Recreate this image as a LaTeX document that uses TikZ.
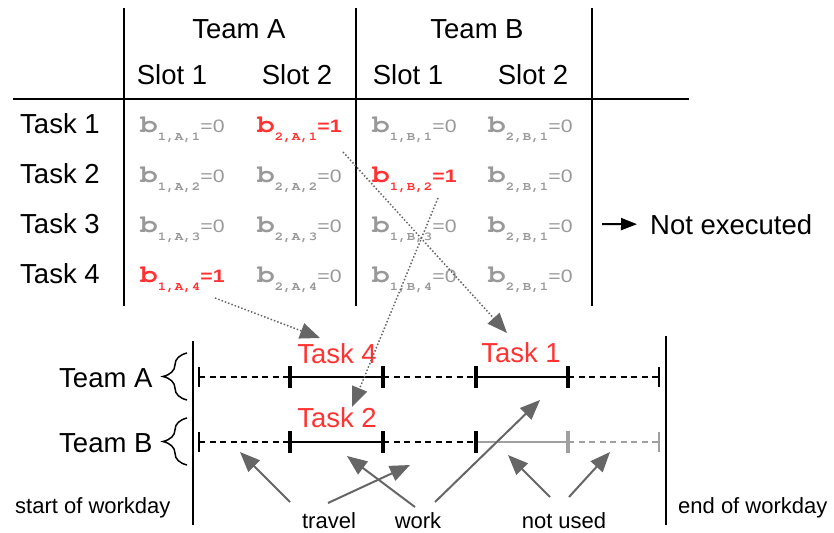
\documentclass[tikz,border=0pt]{standalone}
\usepackage{fontspec}
\setmainfont{Liberation Sans}
\newfontfamily\monofam{TeX Gyre Cursor}
\usepackage{graphicx}
\usetikzlibrary{arrows.meta,decorations.pathreplacing}
\definecolor{redc}{HTML}{FF3333}
\definecolor{grayc}{HTML}{999999}
\definecolor{arrowc}{HTML}{666666}
\definecolor{unused}{HTML}{A0A0A0}
\newcommand{\bent}[3]{\textcolor{#1}{\scalebox{1.18}[1]{{\monofam\bfseries\fontsize{25}{25}\selectfont b}\raisebox{-8pt}{\monofam\bfseries\fontsize{12}{12}\selectfont #2}{\fontsize{18}{18}\selectfont #3}}}}
\begin{document}
\begin{tikzpicture}[x=1pt,y=-1pt,
  big/.style={font=\fontsize{27.5}{30}\selectfont, inner sep=0},
  small/.style={font=\fontsize{22}{24}\selectfont, inner sep=0},
  entry/.style={inner sep=0, anchor=base west},
  rule/.style={line width=2pt},
  tlsolid/.style={line width=2.5pt},
  tldash/.style={line width=2pt, dash pattern=on 6pt off 4.5pt},
  tickthin/.style={line width=2.5pt},
  tickthick/.style={line width=4.5pt},
  gar/.style={draw=arrowc, line width=2pt, -{Triangle[length=20pt,width=16pt]}},
  dar/.style={draw=arrowc, line width=1.5pt, dash pattern=on 1.5pt off 2pt, -{Triangle[length=20pt,width=16pt]}},
  bracestyle/.style={decorate, decoration={brace, amplitude=24pt}, line width=1.5pt}
]
\useasboundingbox (0,0) rectangle (834,532);
% table rules
\draw[rule] (124,8) -- (124,306);
\draw[rule] (356,8) -- (356,306);
\draw[rule] (592,8) -- (592,306);
\draw[rule] (13,99) -- (689,99);
% headers
\node[big, anchor=base] (teamA) at (239,39) {Team A};
\node[big, anchor=base] (teamB) at (477,39) {Team B};
\node[big, anchor=base] (sA1) at (172,85) {Slot 1};
\node[big, anchor=base] (sA2) at (297,85) {Slot 2};
\node[big, anchor=base] (sB1) at (408,85) {Slot 1};
\node[big, anchor=base] (sB2) at (533,85) {Slot 2};
% task labels
\node[big, anchor=base west] (task1) at (20,133) {Task 1};
\node[big, anchor=base west] (task2) at (20,183) {Task 2};
\node[big, anchor=base west] (task3) at (20,233) {Task 3};
\node[big, anchor=base west] (task4) at (20,283) {Task 4};
% entries
\node[entry] (e11) at (140,132) {\bent{grayc}{1,A,1}{=0}};
\node[entry] (e12) at (257,132) {\bent{redc}{2,A,1}{\bfseries=1}};
\node[entry] (e13) at (372,132) {\bent{grayc}{1,B,1}{=0}};
\node[entry] (e14) at (488,132) {\bent{grayc}{2,B,1}{=0}};
\node[entry] (e21) at (140,182) {\bent{grayc}{1,A,2}{=0}};
\node[entry] (e22) at (257,182) {\bent{grayc}{2,A,2}{=0}};
\node[entry] (e23) at (372,182) {\bent{redc}{1,B,2}{\bfseries=1}};
\node[entry] (e24) at (488,182) {\bent{grayc}{2,B,1}{=0}};
\node[entry] (e31) at (140,232) {\bent{grayc}{1,A,3}{=0}};
\node[entry] (e32) at (257,232) {\bent{grayc}{2,A,3}{=0}};
\node[entry] (e33) at (372,232) {\bent{grayc}{1,B,3}{=0}};
\node[entry] (e34) at (488,232) {\bent{grayc}{2,B,1}{=0}};
\node[entry] (e41) at (140,282) {\bent{redc}{1,A,4}{\bfseries=1}};
\node[entry] (e42) at (257,282) {\bent{grayc}{2,A,4}{=0}};
\node[entry] (e43) at (372,282) {\bent{grayc}{1,B,4}{=0}};
\node[entry] (e44) at (488,282) {\bent{grayc}{2,B,1}{=0}};
% not executed
\node[big, anchor=base west] (notex) at (650,234) {Not executed};
\coordinate (nxs) at (602,224);
\draw[line width=2pt, -{Triangle[length=16pt,width=12pt]}] (nxs) -- ([xshift=-13pt]notex.west);
% timeline frame
\draw[rule] (193,341) -- (193,525);
\draw[rule] (666,336) -- (666,525);
\node[big, anchor=base west] (tA) at (59,387) {Team A};
\node[big, anchor=base west] (tB) at (59,452) {Team B};
\draw[bracestyle] (187,400) -- (187,353);
\draw[bracestyle] (187,465) -- (187,418);
% Team A line
\draw[tldash] (199,377) -- (290,377);
\draw[tlsolid] (290,377) -- (383,377);
\draw[tldash] (383,377) -- (476,377);
\draw[tlsolid] (476,377) -- (568,377);
\draw[tldash] (568,377) -- (659,377);
\draw[tickthin] (199,367) -- (199,387);
\draw[tickthick] (290,366) -- (290,388);
\draw[tickthick] (383,366) -- (383,388);
\draw[tickthick] (476,366) -- (476,388);
\draw[tickthick] (568,366) -- (568,388);
\draw[tickthin] (659,367) -- (659,387);
% Team B line
\draw[tldash] (199,442) -- (290,442);
\draw[tlsolid] (290,442) -- (383,442);
\draw[tldash] (383,442) -- (476,442);
\draw[tlsolid, unused] (476,442) -- (568,442);
\draw[tldash, unused] (568,442) -- (659,442);
\draw[tickthin] (199,432) -- (199,452);
\draw[tickthick] (290,431) -- (290,453);
\draw[tickthick] (383,431) -- (383,453);
\draw[line width=3.5pt] (476,431) -- (476,453);
\draw[tickthick, unused] (568,431) -- (568,453);
\draw[tickthin, unused] (659,432) -- (659,452);
% task labels on timeline
\node[big, anchor=base, text=redc] (lt4) at (337,363) {Task 4};
\node[big, anchor=base, text=redc] (lt2) at (337,427) {Task 2};
\node[big, anchor=base, text=redc] (lt1) at (521,362) {Task 1};
% bottom labels
\node[small, anchor=base west] (start) at (15,513) {start of workday};
\node[small, anchor=base west] (endw) at (678,513) {end of workday};
\node[small, anchor=base] (travel) at (329,528) {travel};
\node[small, anchor=base] (work) at (418,528) {work};
\node[small, anchor=base] (notused) at (564,528) {not used};
% gray arrows
\coordinate (tr1s) at (290,502); \coordinate (tr1e) at (240,452);
\coordinate (tr2s) at (328,503); \coordinate (tr2e) at (410,465);
\coordinate (w1s) at (415,507);  \coordinate (w1e) at (347,456);
\coordinate (w2s) at (435,502);  \coordinate (w2e) at (540,400);
\coordinate (n1s) at (550,497);  \coordinate (n1e) at (508,455);
\coordinate (n2s) at (569,497);  \coordinate (n2e) at (610,452);
\draw[gar] (tr1s) -- (tr1e);
\draw[gar] (tr2s) -- (tr2e);
\draw[gar] (w1s) -- (w1e);
\draw[gar] (w2s) -- (w2e);
\draw[gar] (n1s) -- (n1e);
\draw[gar] (n2s) -- (n2e);
% dotted arrows
\coordinate (d4s) at (215,298); \coordinate (d4e) at (320,338);
\coordinate (d1s) at (343,152); \coordinate (d1e) at (507,333);
\coordinate (d2s) at (438,198); \coordinate (d2e) at (352,407);
\draw[dar] (d4s) -- (d4e);
\draw[dar] (d1s) -- (d1e);
\draw[dar] (d2s) -- (d2e);
\end{tikzpicture}
\end{document}
